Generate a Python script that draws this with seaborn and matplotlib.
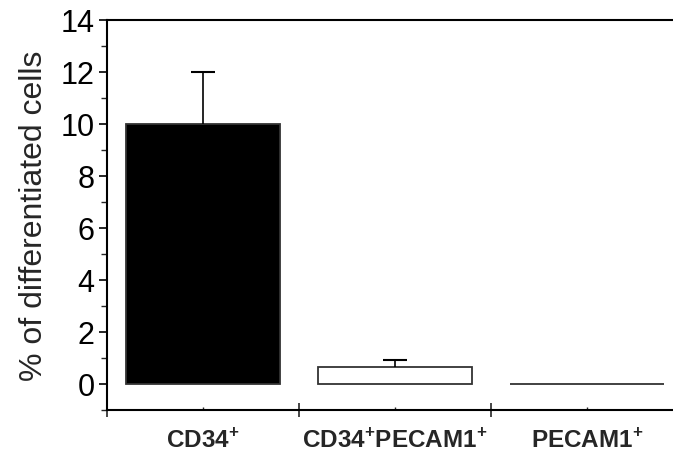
import matplotlib
matplotlib.use('Agg')
import matplotlib.pyplot as plt
import seaborn as sns
import numpy as np
from matplotlib.ticker import MultipleLocator, FixedLocator

# dados
categorias = ['CD34$^{\\mathbf{+}}$', 'CD34$^{\\mathbf{+}}$PECAM1$^{\\mathbf{+}}$', 'PECAM1$^{\\mathbf{+}}$']
valores = [10.0, 0.65, 0.0]
erros = [2.0, 0.28, 0.0]
cores = ['black', 'white', 'white']

sns.set_style('ticks')
plt.rcParams['font.family'] = ['Liberation Sans', 'DejaVu Sans']
plt.rcParams['mathtext.fontset'] = 'custom'
plt.rcParams['mathtext.rm'] = 'Liberation Sans:bold'
plt.rcParams['mathtext.bf'] = 'Liberation Sans:bold'

fig = plt.figure(figsize=(6.73, 4.52), dpi=100)
ax = fig.add_axes([107/673, 41/452, 576/673, 390/452])

sns.barplot(x=categorias, y=valores, hue=categorias, palette=cores, legend=False,
            width=0.8, edgecolor='#333333', linewidth=1.3, ax=ax)

# barras de erro só para cima (sem a do valor zero)
idx = [i for i, e in enumerate(erros) if e > 0]
v = np.array(valores)[idx]
e = np.array(erros)[idx]
_, caps, _ = ax.errorbar(idx, v, yerr=[np.zeros_like(e), e], fmt='none',
                         ecolor='black', elinewidth=1.2, capsize=8.5, capthick=1.5, zorder=1)
for c in caps:
    if np.allclose(c.get_ydata(), v):
        c.set_visible(False)

ax.set_xlim(-0.5, 2.5)
ax.set_ylim(-1, 14)

# eixo y
ax.yaxis.set_major_locator(MultipleLocator(2))
ax.yaxis.set_minor_locator(FixedLocator([-1, 1, 3, 5, 7, 9, 11, 13]))
ax.tick_params(axis='y', which='major', direction='out', length=6, width=1.2,
               labelsize=22, pad=3, colors='black')
ax.tick_params(axis='y', which='minor', direction='out', length=4, width=1.0)
ax.set_ylabel('% of differentiated cells', fontsize=23)
ax.yaxis.set_label_coords(-0.1, 0.5)

# eixo x: rótulos nas categorias, marcas nos limites
ax.xaxis.set_minor_locator(FixedLocator([-0.5, 0.5, 1.5]))
ax.tick_params(axis='x', which='major', direction='in', length=2, width=1.0,
               labelsize=17.5, pad=13)
ax.tick_params(axis='x', which='minor', direction='inout', length=10, width=1.2)
for lbl in ax.get_xticklabels():
    lbl.set_fontweight('bold')
ax.set_xlabel('')

for s in ['left', 'bottom', 'top', 'right']:
    ax.spines[s].set_visible(True)
    ax.spines[s].set_linewidth(1.5)
    ax.spines[s].set_color('black')

plt.savefig('out.png', dpi=100)
